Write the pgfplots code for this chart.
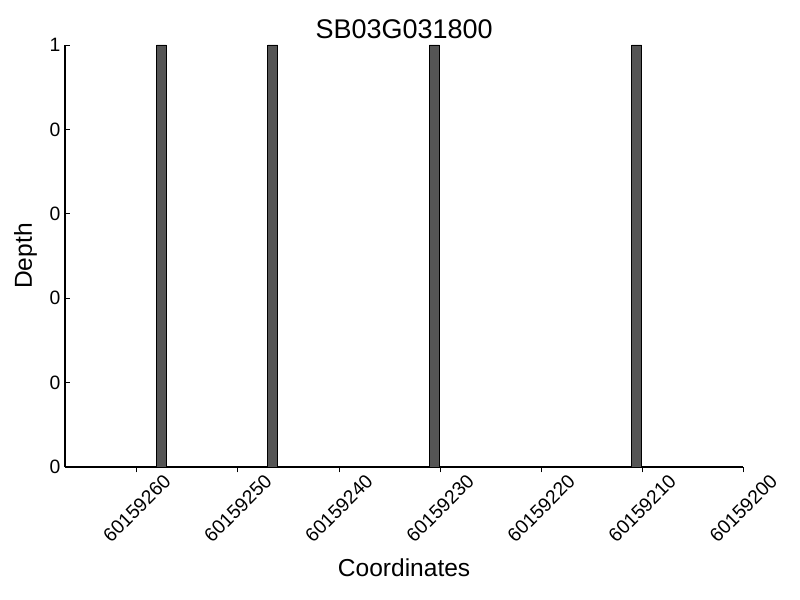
\documentclass[border=0pt]{standalone}
\usepackage{fontspec}
\setmainfont{Liberation Sans}
\usepackage{pgfplots}
\pgfplotsset{compat=1.18}
\definecolor{barfill}{HTML}{555555}
\begin{document}
\begin{tikzpicture}
% x positions are offsets from 60159200
\begin{axis}[
  at={(0,0)}, anchor=south west,
  scale only axis, width=508.7pt, height=316.5pt,
  x dir=reverse, xmin=0, xmax=67.1, ymin=0, ymax=1,
  axis x line*=bottom, axis y line*=left,
  axis line style={line width=0.9pt, black},
  xtick={0,10,20,30,40,50,60},
  xticklabels={60159200,60159210,60159220,60159230,60159240,60159250,60159260},
  ytick={0,0.2,0.4,0.6,0.8,1}, yticklabels={0,0,0,0,0,1},
  tick align=inside, major tick length=4pt,
  tick style={line width=0.6pt, black},
  ticklabel style={font=\fontsize{14.5}{16}\selectfont},
  xticklabel style={rotate=45, anchor=center},
  xticklabel shift=27pt,
  title=SB03G031800,
  every axis title/.style={at={(0.5,1)}, anchor=base, yshift=4.5pt, font=\fontsize{20.25}{24}\selectfont},
  xlabel=Coordinates, ylabel=Depth,
  every axis x label/.style={at={([yshift=-82.3pt]axis description cs:0.5,0)}, anchor=base, font=\fontsize{18.4}{22}\selectfont},
  every axis y label/.style={at={([xshift=-24.75pt]axis description cs:0,0.5)}, rotate=90, anchor=base, font=\fontsize{18.4}{22}\selectfont},
  ybar, bar width=0.98,
]
\addplot[fill=barfill, draw=black, line width=0.6pt] coordinates {(57.55,1) (46.55,1) (30.55,1) (10.55,1)};
\end{axis}
\pgfresetboundingbox
\path[use as bounding box] (-48.75pt,-99.75pt) rectangle (551.25pt,350.25pt);
\end{tikzpicture}
\end{document}
